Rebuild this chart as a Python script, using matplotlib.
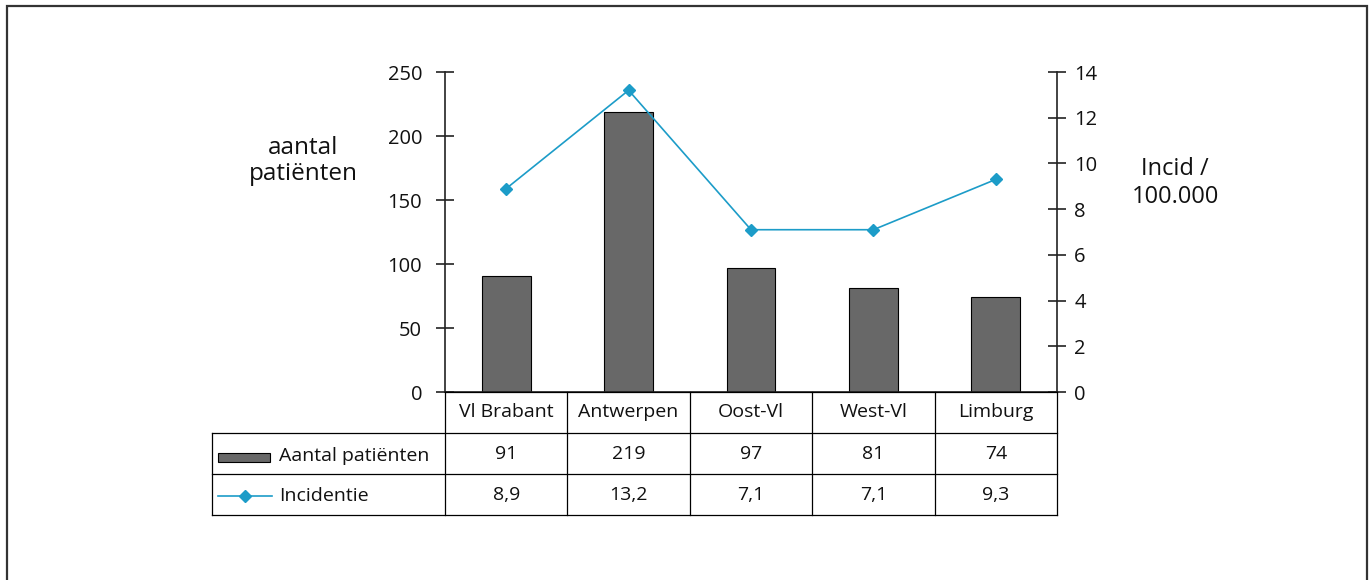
import matplotlib
matplotlib.use("Agg")
import matplotlib.pyplot as plt
from matplotlib.patches import Rectangle
from matplotlib.lines import Line2D
import matplotlib.transforms as mtransforms

plt.rcParams['font.family'] = ['Open Sans', 'DejaVu Sans']

categories = ["Vl Brabant", "Antwerpen", "Oost-Vl", "West-Vl", "Limburg"]
patients = [91, 219, 97, 81, 74]
incidence = [8.9, 13.2, 7.1, 7.1, 9.3]
incidence_labels = ["8,9", "13,2", "7,1", "7,1", "9,3"]
left_ticks = [0, 50, 100, 150, 200, 250]
right_ticks = [0, 2, 4, 6, 8, 10, 12, 14]

W, H = 1372, 580
fig = plt.figure(figsize=(W / 100, H / 100), dpi=100)

def fx(x):
    return x / W

def fy(y):
    return 1 - y / H

BAR_COLOR = "#686868"
LINE_COLOR = "#1c9cc8"
FS = 14
TFS = 14.5

ax = fig.add_axes([fx(445), fy(392), fx(1057) - fx(445), fy(72) - fy(392)])
ax2 = ax.twinx()

x = list(range(len(categories)))
ax.bar(x, patients, width=0.4, color=BAR_COLOR, edgecolor="black", linewidth=0.8, zorder=2)
ax2.plot(x, incidence, color=LINE_COLOR, linewidth=1.2, marker="D", markersize=6,
         markerfacecolor=LINE_COLOR, markeredgecolor=LINE_COLOR, zorder=3)

ax.set_xlim(-0.5, len(categories) - 0.5)
ax.set_ylim(0, 250)
ax2.set_ylim(0, 14)
ax.set_yticks(left_ticks)
ax2.set_yticks(right_ticks)
ax.set_xticks([])
ax2.set_xticks([])

for a in (ax, ax2):
    a.spines['top'].set_visible(False)
    a.patch.set_visible(False)
ax.spines['right'].set_visible(False)
ax2.spines['left'].set_visible(False)
ax2.spines['bottom'].set_visible(False)
for s in ('left', 'bottom'):
    ax.spines[s].set_color("#222222")
    ax.spines[s].set_linewidth(1.2)
ax2.spines['right'].set_color("#222222")
ax2.spines['right'].set_linewidth(1.2)

ax.tick_params(axis='y', direction='inout', length=13, width=1.2, color="#222222",
               labelsize=TFS, pad=10, labelcolor="#111111")
ax2.tick_params(axis='y', direction='inout', length=13, width=1.2, color="#222222",
                labelsize=TFS, pad=6, labelcolor="#111111")

ax.set_zorder(ax2.get_zorder() - 1)

# axis titles
fig.text(fx(303), fy(161), "aantal\npatiënten", ha="center", va="center",
         fontsize=17.5, linespacing=1.15, color="#111111")
fig.text(fx(1175), fy(183), "Incid /\n100.000", ha="center", va="center",
         fontsize=17, linespacing=1.25, color="#111111")

# table below the chart
trans = mtransforms.blended_transform_factory(ax.transData, fig.transFigure)
lw = 0.9
row_y = [392, 433, 474, 515]
col_edges = [i - 0.5 for i in range(len(categories) + 1)]

for ce in col_edges:
    fig.add_artist(Line2D([ce, ce], [fy(392), fy(515)], transform=trans, color="black", linewidth=lw))
fig.add_artist(Line2D([-0.5, len(categories) - 0.5], [fy(392), fy(392)], transform=trans, color="black", linewidth=lw))
for yy in row_y[1:]:
    fig.add_artist(Line2D([fx(212), fx(1057)], [fy(yy), fy(yy)], transform=fig.transFigure, color="black", linewidth=lw))
fig.add_artist(Line2D([fx(212), fx(212)], [fy(433), fy(515)], transform=fig.transFigure, color="black", linewidth=lw))

for i, (cat, p, inc) in enumerate(zip(categories, patients, incidence_labels)):
    fig.text(i, fy(412), cat, transform=trans, ha="center", va="center", fontsize=FS, color="#111111")
    fig.text(i, fy(454), str(p), transform=trans, ha="center", va="center", fontsize=FS, color="#111111")
    fig.text(i, fy(495), inc, transform=trans, ha="center", va="center", fontsize=FS, color="#111111")

# legend keys in the table
fig.add_artist(Rectangle((fx(218), fy(462)), fx(270) - fx(218), fy(453) - fy(462),
                         transform=fig.transFigure, facecolor=BAR_COLOR, edgecolor="black", linewidth=0.8))
fig.text(fx(279), fy(456), "Aantal patiënten", ha="left", va="center", fontsize=FS, color="#111111")
fig.add_artist(Line2D([fx(218), fx(272)], [fy(496), fy(496)], transform=fig.transFigure,
                      color=LINE_COLOR, linewidth=1.2))
fig.add_artist(Line2D([fx(245)], [fy(496)], transform=fig.transFigure, color=LINE_COLOR,
                      marker="D", markersize=6, markerfacecolor=LINE_COLOR, markeredgecolor=LINE_COLOR))
fig.text(fx(279), fy(496), "Incidentie", ha="left", va="center", fontsize=FS, color="#111111")

# outer frame
fig.add_artist(Rectangle((fx(7), fy(600)), fx(1367) - fx(7), fy(6) - fy(600),
                         transform=fig.transFigure, facecolor="none", edgecolor="#333333", linewidth=1.6))

fig.savefig("out.png", dpi=100)
